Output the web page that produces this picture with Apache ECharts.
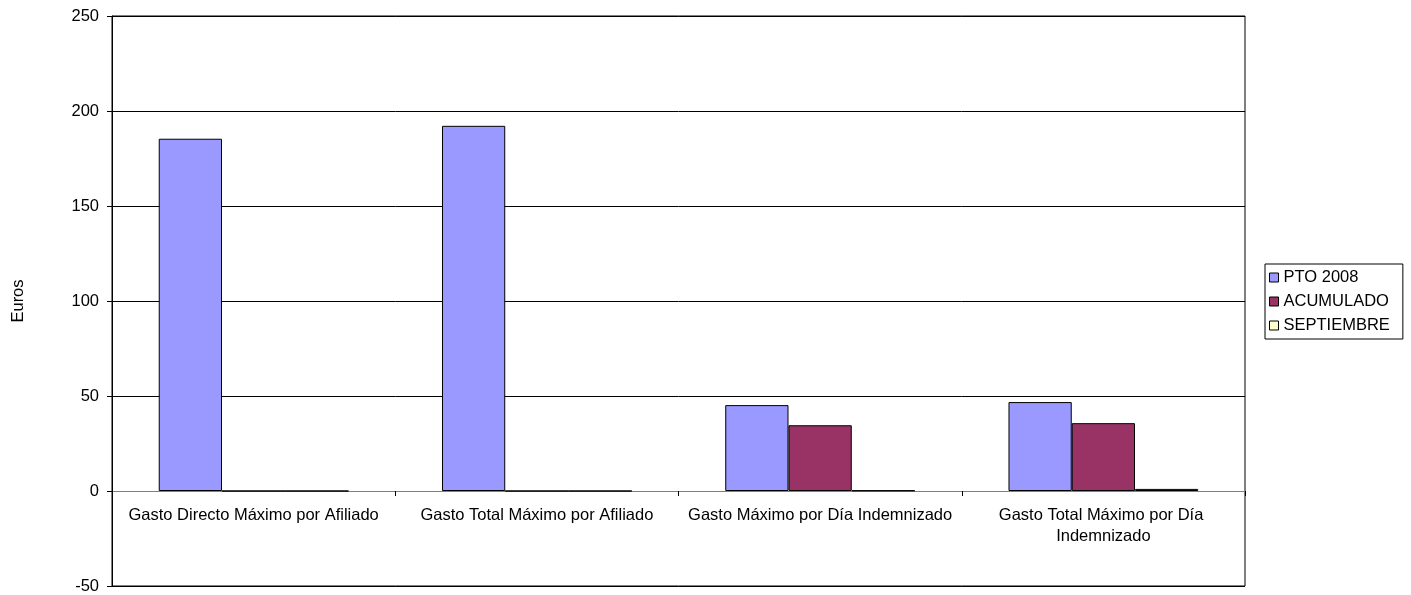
<!DOCTYPE html>
<html>
<head>
<meta charset="utf-8">
<script src="https://cdn.jsdelivr.net/npm/echarts@6/dist/echarts.min.js"></script>
<style>html,body{margin:0;padding:0;background:#fff}#c{width:1411px;height:595px}</style>
</head>
<body>
<div id="c"></div>
<script>
const categories = ['Gasto Directo Máximo por Afiliado', 'Gasto Total Máximo por Afiliado', 'Gasto Máximo por Día Indemnizado', 'Gasto Total Máximo por Día Indemnizado'];
const pto2008 = [185.4, 192.2, 45.2, 46.8];
const acumulado = [0, 0, 34.6, 35.7];
const septiembre = [0, 0, 0.3, 1.1];
const yTicks = { min: -50, max: 250, interval: 50 };

const font = 'Liberation Sans, Arial, sans-serif';
const FS = 16.5;
const chart = echarts.init(document.getElementById('c'));
const barStyle = (c) => ({ color: c, borderColor: '#000', borderWidth: 1 });
chart.setOption({
  animation: false,
  textStyle: { fontFamily: font },
  grid: { left: 112, right: 166, top: 16, bottom: 9, show: true, borderColor: '#000', borderWidth: 1, containLabel: false, outerBoundsMode: 'none' },
  legend: {
    orient: 'vertical', left: 1265, top: 264,
    itemWidth: 9, itemHeight: 9, itemGap: 7,
    borderColor: '#000', borderWidth: 1, padding: [5, 13, 5, 4],
    icon: 'rect',
    itemStyle: { borderColor: '#000', borderWidth: 1 },
    textStyle: { fontFamily: font, fontSize: FS, color: '#000' },
    data: ['PTO 2008', 'ACUMULADO', 'SEPTIEMBRE']
  },
  xAxis: {
    type: 'category', data: categories,
    axisLine: { onZero: false, lineStyle: { color: '#808080', width: 1 } },
    offset: -95,
    axisTick: { show: true, length: 5, lineStyle: { color: '#000' } },
    axisLabel: { color: '#000', fontSize: FS, fontFamily: font, margin: 14, width: 286, overflow: 'break', lineHeight: 21, interval: 0 },
    splitLine: { show: false }
  },
  yAxis: {
    type: 'value', min: yTicks.min, max: yTicks.max, interval: yTicks.interval,
    name: 'Euros', nameLocation: 'middle', nameGap: 85, nameRotate: 90,
    nameTextStyle: { color: '#000', fontSize: FS, fontFamily: font },
    axisLine: { show: true, lineStyle: { color: '#000' } },
    axisTick: { show: true, length: 5, lineStyle: { color: '#000' } },
    axisLabel: { color: '#000', fontSize: FS, fontFamily: font, margin: 13 },
    splitLine: { show: true, lineStyle: { color: '#000', width: 1 } }
  },
  series: [
    { name: 'PTO 2008', type: 'bar', data: pto2008, itemStyle: barStyle('#9999FF'), barGap: '0%', barCategoryGap: '33%' },
    { name: 'ACUMULADO', type: 'bar', data: acumulado, itemStyle: barStyle('#993366'), barGap: '0%', barCategoryGap: '33%' },
    { name: 'SEPTIEMBRE', type: 'bar', data: septiembre, itemStyle: barStyle('#FFFFCC'), barGap: '0%', barCategoryGap: '33%' }
  ]
});
</script>
</body>
</html>
